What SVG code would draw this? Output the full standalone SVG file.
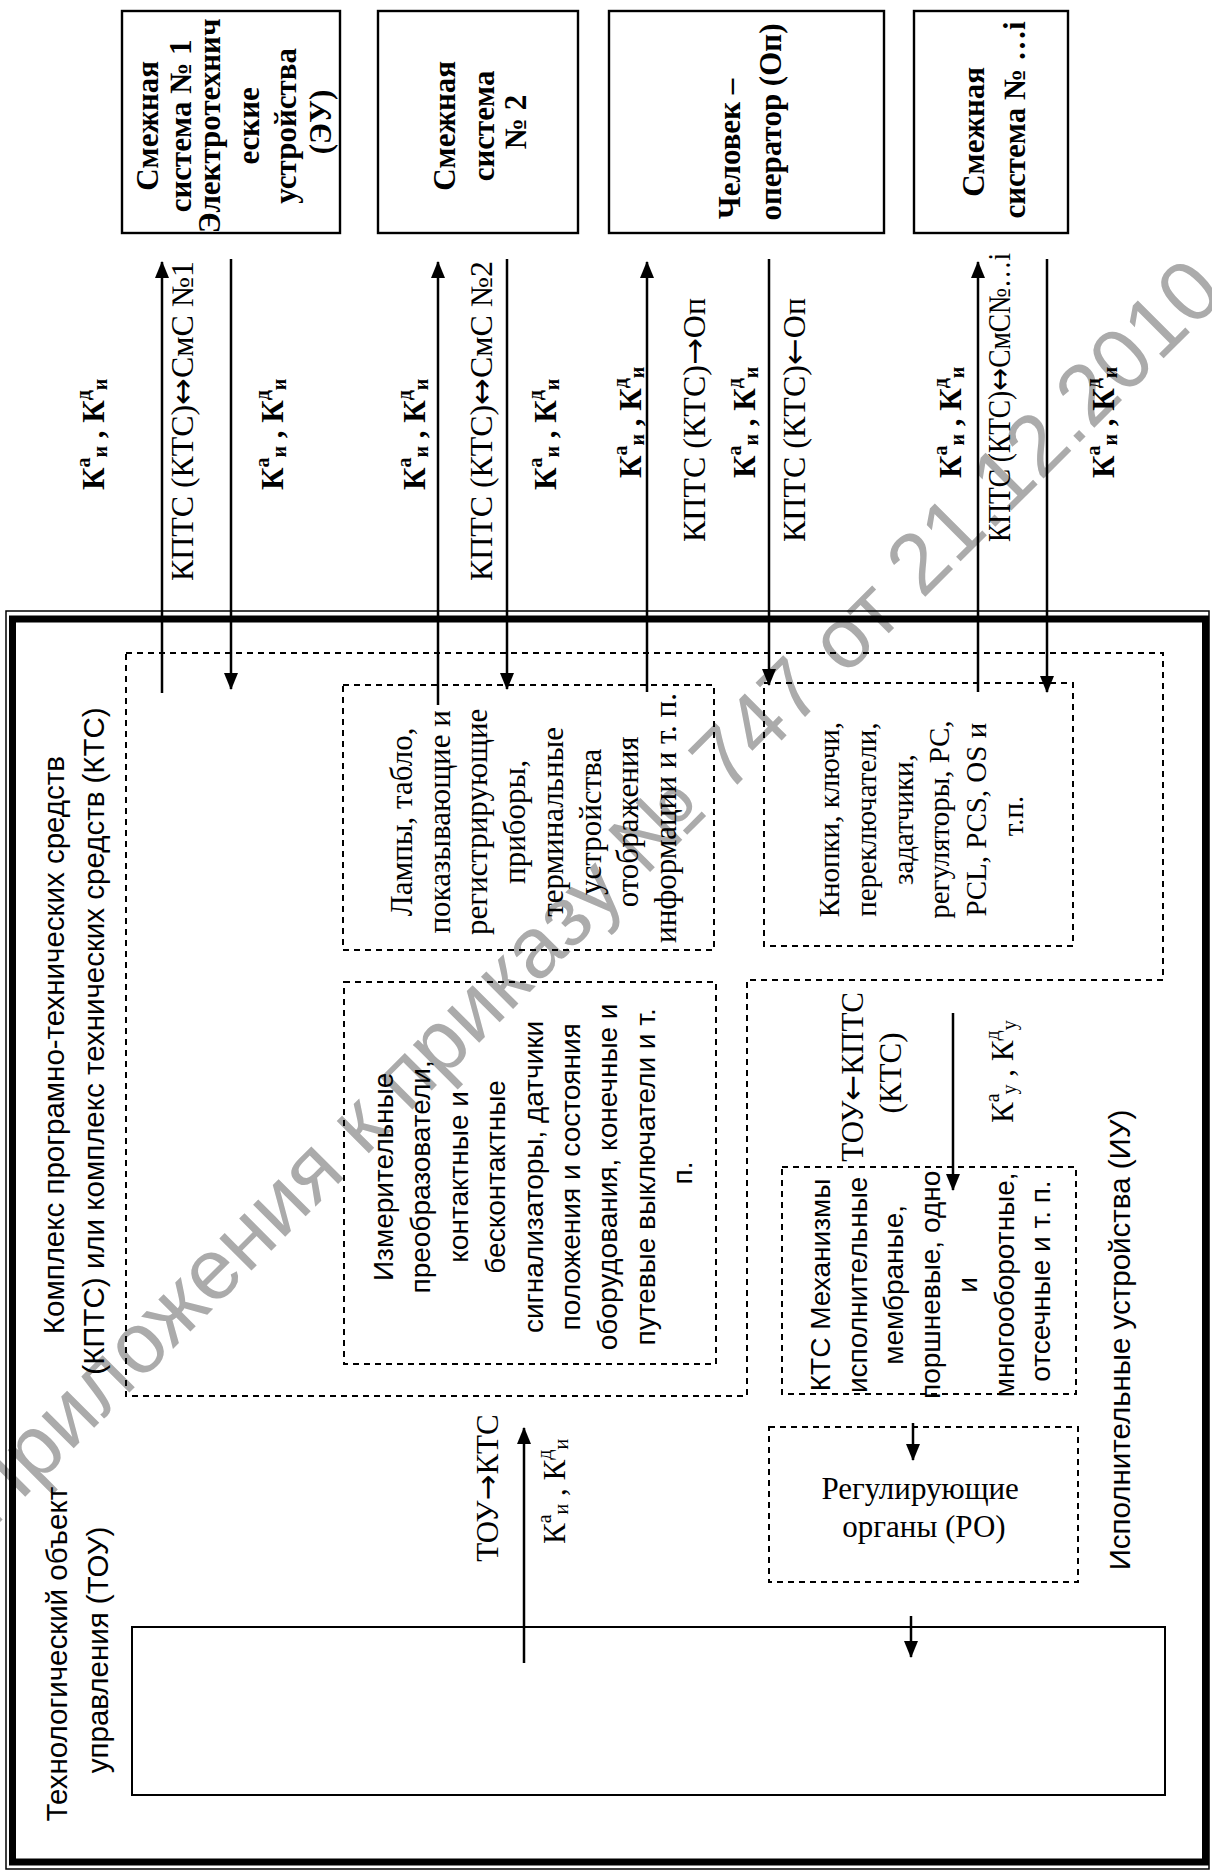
<svg xmlns="http://www.w3.org/2000/svg" width="1212" height="1872" viewBox="0 0 1212 1872">
<style>
.bx{fill:none;stroke:#000;stroke-width:2.4}
.dash{fill:none;stroke:#000;stroke-width:2;stroke-dasharray:6 5}
.ln{fill:none;stroke:#000;stroke-width:2.5}
.tb{font-family:"Liberation Serif",serif;font-weight:bold;font-size:31px;fill:#000}
.ts{font-family:"Liberation Serif",serif;font-size:31px;fill:#000}
.tk{font-family:"Liberation Serif",serif;font-size:29px;fill:#000}
.tss{font-family:"Liberation Sans",sans-serif;font-size:28px;fill:#000}
.tsl{font-family:"Liberation Sans",sans-serif;font-size:29.5px;fill:#000}
.sm{font-size:20px}
.ar{font-family:"DejaVu Sans",sans-serif}
.wm{font-family:"Liberation Sans",sans-serif;font-size:86px;fill:#ababab}
</style>
<defs>
<marker id="ah" markerUnits="userSpaceOnUse" markerWidth="17" markerHeight="14" refX="16" refY="7" orient="auto">
<path d="M0,0 L17,7 L0,14 z" fill="#000"/>
</marker>
</defs>
<rect width="1212" height="1872" fill="#fff"/>

<g id="watermark">
<text class="wm" transform="translate(-8,1530) rotate(-45)">Приложения к приказу № 747 от 21.12.2010</text>
</g>

<g id="frame">
<rect x="6" y="611" width="1203" height="1258" fill="none" stroke="#000" stroke-width="1.5"/>
<rect x="12.5" y="619" width="1193" height="1243" fill="none" stroke="#000" stroke-width="7"/>
</g>

<g id="smezh1">
<rect class="bx" x="122" y="11" width="218" height="222"/>
<text class="tb" text-anchor="middle" transform="rotate(-90)">
<tspan x="-122" y="158">Смежная</tspan>
<tspan x="-122" y="191">система № 1</tspan>
<tspan x="-122" y="220">Электротехнич</tspan>
<tspan x="-122" y="259">еские</tspan>
<tspan x="-122" y="296">устройства</tspan>
<tspan x="-122" y="331">(ЭУ)</tspan>
</text>
</g>

<g id="smezh2">
<rect class="bx" x="378" y="11" width="200" height="222"/>
<text class="tb" text-anchor="middle" transform="rotate(-90)">
<tspan x="-122" y="455">Смежная</tspan>
<tspan x="-122" y="494">система</tspan>
<tspan x="-122" y="526">№ 2</tspan>
</text>
</g>

<g id="operator">
<rect class="bx" x="609" y="11" width="275" height="222"/>
<text class="tb" text-anchor="middle" transform="rotate(-90)">
<tspan x="-145" y="740">Человек –</tspan>
<tspan x="-122" y="781">оператор (Оп)</tspan>
</text>
</g>

<g id="smezhi">
<rect class="bx" x="914" y="11" width="154" height="222"/>
<text class="tb" text-anchor="middle" transform="rotate(-90)">
<tspan x="-128" y="984">Смежная</tspan>
<tspan x="-120" y="1025">система № …i</tspan>
</text>
</g>

<g id="kpts">
<path class="dash" d="M126,653 H1163 V980 H747 V1396 H126 Z"/>
<text class="tsl" font-size="30" text-anchor="middle" transform="rotate(-90)">
<tspan x="-1041" y="64">Комплекс програмно-технических средств</tspan>
<tspan x="-1041" y="104">(КПТС) или комплекс технических средств (КТС)</tspan>
</text>
</g>

<g id="lampy">
<rect class="dash" x="343" y="685" width="371" height="265"/>
<text class="ts" text-anchor="middle" transform="rotate(-90)">
<tspan x="-818" y="412">Лампы, табло,</tspan>
<tspan x="-818" y="449.7">показывающие и</tspan>
<tspan x="-818" y="487.4">регистрирующие</tspan>
<tspan x="-818" y="525.1">приборы,</tspan>
<tspan x="-818" y="562.8">терминальные</tspan>
<tspan x="-818" y="600.5">устройства</tspan>
<tspan x="-818" y="638.2">отображения</tspan>
<tspan x="-818" y="675.9">информации и т. п.</tspan>
</text>
</g>

<g id="izmer">
<rect class="dash" x="344" y="982" width="372" height="382"/>
<text class="tss" text-anchor="middle" transform="rotate(-90)">
<tspan x="-1173" y="393">Измерительные</tspan>
<tspan x="-1173" y="430.4">преобразователи,</tspan>
<tspan x="-1173" y="467.8">контактные и</tspan>
<tspan x="-1173" y="505.2">бесконтактные</tspan>
<tspan x="-1173" y="542.6">сигнализаторы, датчики</tspan>
<tspan x="-1173" y="580">положения и состояния</tspan>
<tspan x="-1173" y="617.4">оборудования, конечные и</tspan>
<tspan x="-1173" y="654.8">путевые выключатели и т.</tspan>
<tspan x="-1173" y="692.2">п.</tspan>
</text>
</g>

<g id="knopki">
<rect class="dash" x="764" y="683" width="309" height="263"/>
<text class="tk" text-anchor="middle" transform="rotate(-90)">
<tspan x="-816" y="839">Кнопки, ключи,</tspan>
<tspan x="-816" y="875.8">переключатели,</tspan>
<tspan x="-816" y="912.6">задатчики,</tspan>
<tspan x="-816" y="949.4">регуляторы, PC,</tspan>
<tspan x="-816" y="986.2">PCL, PCS, OS и</tspan>
<tspan x="-816" y="1023">т.п.</tspan>
</text>
</g>

<g id="iu">
<text class="tsl" text-anchor="middle" transform="rotate(-90)" x="-1340" y="1130">Исполнительные устройства (ИУ)</text>
<text class="ts" text-anchor="middle" transform="rotate(-90)">
<tspan x="-1073" y="863">ТОУ<tspan class="ar">←</tspan>КПТС</tspan>
<tspan x="-1073" y="901">(КТС)</tspan>
</text>
<text class="ts" transform="rotate(-90)" x="-1123" y="1013">К<tspan class="sm" dy="-14">а</tspan><tspan class="sm" dy="17">у</tspan><tspan dy="-3"> , К</tspan><tspan class="sm" dy="-14">д</tspan><tspan class="sm" dy="17">у</tspan></text>
</g>

<g id="mehanizmy">
<rect class="dash" x="782" y="1167" width="294" height="227"/>
<text class="tss" text-anchor="middle" transform="rotate(-90)">
<tspan x="-1281" y="830">КТС Механизмы</tspan>
<tspan x="-1281" y="866.7">исполнительные</tspan>
<tspan x="-1281" y="903.4">мембраные,</tspan>
<tspan x="-1281" y="940.1">поршневые, одно</tspan>
<tspan x="-1281" y="976.8">и</tspan>
<tspan x="-1281" y="1013.5">многооборотные,</tspan>
<tspan x="-1281" y="1050.2">отсечные и т. п.</tspan>
</text>
</g>

<g id="ro">
<rect class="dash" x="769" y="1427" width="309" height="155"/>
<text class="ts" text-anchor="middle">
<tspan x="924" y="1499">Регулирующие</tspan>
<tspan x="924" y="1537">органы (РО)</tspan>
</text>
</g>

<g id="tou">
<rect x="132" y="1627" width="1033" height="168" fill="none" stroke="#000" stroke-width="2"/>
<text class="tsl" font-size="29" text-anchor="middle" transform="rotate(-90)">
<tspan x="-1650" y="67">Технологический объект</tspan>
<tspan x="-1650" y="108">управления (ТОУ)</tspan>
</text>
</g>

<g id="connectors">
<line class="ln" x1="162" y1="693" x2="162" y2="262" marker-end="url(#ah)"/>
<line class="ln" x1="438" y1="705" x2="438" y2="262" marker-end="url(#ah)"/>
<line class="ln" x1="647" y1="692" x2="647" y2="262" marker-end="url(#ah)"/>
<line class="ln" x1="978" y1="692" x2="978" y2="262" marker-end="url(#ah)"/>
<line class="ln" x1="231" y1="259" x2="231" y2="689" marker-end="url(#ah)"/>
<line class="ln" x1="507" y1="259" x2="507" y2="689" marker-end="url(#ah)"/>
<line class="ln" x1="769" y1="259" x2="769" y2="685" marker-end="url(#ah)"/>
<line class="ln" x1="1047" y1="259" x2="1047" y2="692" marker-end="url(#ah)"/>
<line class="ln" x1="953" y1="1013" x2="953" y2="1190" marker-end="url(#ah)"/>
<line class="ln" x1="913" y1="1423" x2="913" y2="1460" marker-end="url(#ah)"/>
<line class="ln" x1="911" y1="1616" x2="911" y2="1657" marker-end="url(#ah)"/>
<line class="ln" x1="524" y1="1663" x2="524" y2="1428" marker-end="url(#ah)"/>

<text class="ts" transform="rotate(-90)" x="-581" y="193" textLength="320" lengthAdjust="spacingAndGlyphs">КПТС (КТС)<tspan class="ar">↔</tspan>СмС №1</text>
<text class="ts" transform="rotate(-90)" x="-581" y="492" textLength="320" lengthAdjust="spacingAndGlyphs">КПТС (КТС)<tspan class="ar">↔</tspan>СмС №2</text>
<text class="ts" transform="rotate(-90)" x="-542" y="705" textLength="244" lengthAdjust="spacingAndGlyphs">КПТС (КТС)<tspan class="ar">→</tspan>Оп</text>
<text class="ts" transform="rotate(-90)" x="-542" y="805" textLength="244" lengthAdjust="spacingAndGlyphs">КПТС (КТС)<tspan class="ar">←</tspan>Оп</text>
<text class="ts" transform="rotate(-90)" x="-542" y="1010" textLength="289" lengthAdjust="spacingAndGlyphs">КПТС (КТС)<tspan class="ar">↔</tspan>СмС№…i</text>
<text class="ts" text-anchor="middle" transform="rotate(-90)" x="-1488" y="498">ТОУ<tspan class="ar">→</tspan>КТС</text>

<text class="tb" transform="rotate(-90)" x="-490" y="104">К<tspan class="sm" dy="-14">а</tspan><tspan class="sm" dy="17">и</tspan><tspan dy="-3"> , К</tspan><tspan class="sm" dy="-14">д</tspan><tspan class="sm" dy="17">и</tspan></text>
<text class="tb" transform="rotate(-90)" x="-490" y="283">К<tspan class="sm" dy="-14">а</tspan><tspan class="sm" dy="17">и</tspan><tspan dy="-3"> , К</tspan><tspan class="sm" dy="-14">д</tspan><tspan class="sm" dy="17">и</tspan></text>
<text class="tb" transform="rotate(-90)" x="-490" y="425">К<tspan class="sm" dy="-14">а</tspan><tspan class="sm" dy="17">и</tspan><tspan dy="-3"> , К</tspan><tspan class="sm" dy="-14">д</tspan><tspan class="sm" dy="17">и</tspan></text>
<text class="tb" transform="rotate(-90)" x="-490" y="556">К<tspan class="sm" dy="-14">а</tspan><tspan class="sm" dy="17">и</tspan><tspan dy="-3"> , К</tspan><tspan class="sm" dy="-14">д</tspan><tspan class="sm" dy="17">и</tspan></text>
<text class="tb" transform="rotate(-90)" x="-478" y="641">К<tspan class="sm" dy="-14">а</tspan><tspan class="sm" dy="17">и</tspan><tspan dy="-3"> , К</tspan><tspan class="sm" dy="-14">д</tspan><tspan class="sm" dy="17">и</tspan></text>
<text class="tb" transform="rotate(-90)" x="-478" y="755">К<tspan class="sm" dy="-14">а</tspan><tspan class="sm" dy="17">и</tspan><tspan dy="-3"> , К</tspan><tspan class="sm" dy="-14">д</tspan><tspan class="sm" dy="17">и</tspan></text>
<text class="tb" transform="rotate(-90)" x="-478" y="961">К<tspan class="sm" dy="-14">а</tspan><tspan class="sm" dy="17">и</tspan><tspan dy="-3"> , К</tspan><tspan class="sm" dy="-14">д</tspan><tspan class="sm" dy="17">и</tspan></text>
<text class="tb" transform="rotate(-90)" x="-478" y="1114">К<tspan class="sm" dy="-14">а</tspan><tspan class="sm" dy="17">и</tspan><tspan dy="-3"> , К</tspan><tspan class="sm" dy="-14">д</tspan><tspan class="sm" dy="17">и</tspan></text>
<text class="ts" transform="rotate(-90)" x="-1544" y="565">К<tspan class="sm" dy="-14">а</tspan><tspan class="sm" dy="17">и</tspan><tspan dy="-3"> , К</tspan><tspan class="sm" dy="-14">д</tspan><tspan class="sm" dy="17">и</tspan></text>
</g>
</svg>
